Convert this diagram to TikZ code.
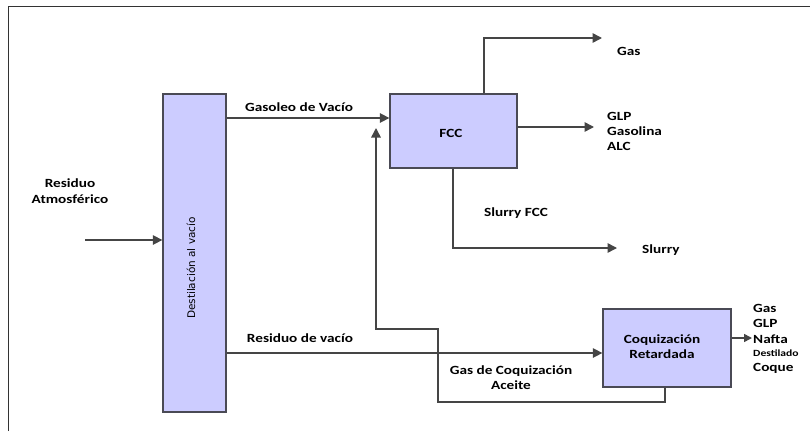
\documentclass[tikz,border=0pt]{standalone}
\usepackage{fontspec}
\setmainfont{Carlito}
\newfontfamily\rotfont{DejaVu Sans}
\usetikzlibrary{arrows.meta,calc}
\definecolor{boxfill}{HTML}{CCCCFF}
\definecolor{boxline}{HTML}{4A4A55}
\definecolor{flow}{HTML}{454545}
% labels are set a little wider than the font's natural width
\newcommand{\stretchx}[1]{\scalebox{1.22}[1]{#1}}
\tikzset{
  unit/.style={draw=boxline, line width=1.3pt, fill=boxfill, inner sep=0pt},
  flowline/.style={draw=flow, line width=1.5pt},
  flowarrow/.style={flowline, -{Triangle[length=9.5pt,width=9.5pt]}},
  lbl/.style={font=\fontsize{12.5}{14}\selectfont\bfseries, text=black, inner sep=0pt},
  lblleft/.style={lbl, anchor=west, align=left},
}
\begin{document}
\begin{tikzpicture}[x=1pt,y=-1pt]
\useasboundingbox (0,0) rectangle (810,431);
% outer frame
\draw[line width=1pt, draw=black!80] (8,431) -- (8,6) -- (810,6);

% process units
\node[unit, minimum width=63pt, minimum height=318pt] (dist) at (194.5,253) {};
\node[rotate=90, font=\rotfont\fontsize{10.5}{12}\selectfont, inner sep=0pt] (distlbl) at (191,268) {Destilación al vacío};
\node[unit, minimum width=127pt, minimum height=74pt] (fcc) at (453.5,131) {};
\node[lbl] (fcclbl) at (451,133) {\stretchx{FCC}};
\node[unit, minimum width=128pt, minimum height=78pt] (coq) at (667,348) {};
\node[lbl, align=center] (coqlbl) at (662,347) {\stretchx{Coquización}\\[1pt]\stretchx{Retardada}};

% helper points
\coordinate (feed) at (85,240);
\coordinate (gvo) at (300,118);
\coordinate (gastop) at (484,38);
\coordinate (gasend) at (602,38);
\coordinate (lightend) at (594,127);
\coordinate (slbot) at (453,248);
\coordinate (slend) at (617,248);
\coordinate (resv) at (300,353);
\coordinate (rc1) at (665,402);
\coordinate (rc2) at (438,402);
\coordinate (rc3) at (438,329);
\coordinate (rc4) at (376,329);
\coordinate (rc5) at (376,128);
\coordinate (coqout) at (752,338);

% flows
\draw[flowarrow] (feed) -- (feed -| dist.west);
\draw[flowarrow] (gvo -| dist.east) -- (gvo -| fcc.west);
\draw[flowarrow] (gastop |- fcc.north) -- (gastop) -- (gasend);
\draw[flowarrow] (lightend -| fcc.east) -- (lightend);
\draw[flowarrow] (slbot |- fcc.south) -- (slbot) -- (slend);
\draw[flowarrow] (resv -| dist.east) -- (resv -| coq.west);
\draw[flowarrow] (rc1 |- coq.south) -- (rc1) -- (rc2) -- (rc3) -- (rc4) -- (rc5);
\draw[flow, line width=1.5pt, -{Triangle[length=8pt,width=8pt]}] (coqout -| coq.east) -- (coqout);

% stream labels
\node[lbl, align=center] (lres) at (70,191) {\stretchx{Residuo}\\[2pt]\stretchx{Atmosférico}};
\node[lbl] (lgvo) at (299,107) {\stretchx{Gasoleo de Vacío}};
\node[lblleft] (lgas) at (617,51) {\stretchx{Gas}};
\node[lblleft, anchor=north west] (llight) at (607,112) {\stretchx{GLP}\\[1pt]\stretchx{Gasolina}\\[1pt]\stretchx{ALC}};
\node[lbl] (lslfcc) at (516,213) {\stretchx{Slurry FCC}};
\node[lblleft] (lsl) at (642,250) {\stretchx{Slurry}};
\node[lbl] (lresv) at (300,338) {\stretchx{Residuo de vacío}};
\node[lbl, align=center] (lgca) at (511,378) {\stretchx{Gas de Coquización}\\[1pt]\stretchx{Aceite}};
\node[lblleft] (o1) at (753,308) {\stretchx{Gas}};
\node[lblleft] (o2) at (753,323) {\stretchx{GLP}};
\node[lblleft] (o3) at (753,339) {\stretchx{Nafta}};
\node[lblleft, font=\fontsize{9.5}{11}\selectfont\bfseries] (o4) at (753,353) {\stretchx{Destilado}};
\node[lblleft] (o5) at (753,368) {\stretchx{Coque}};
\end{tikzpicture}
\end{document}
